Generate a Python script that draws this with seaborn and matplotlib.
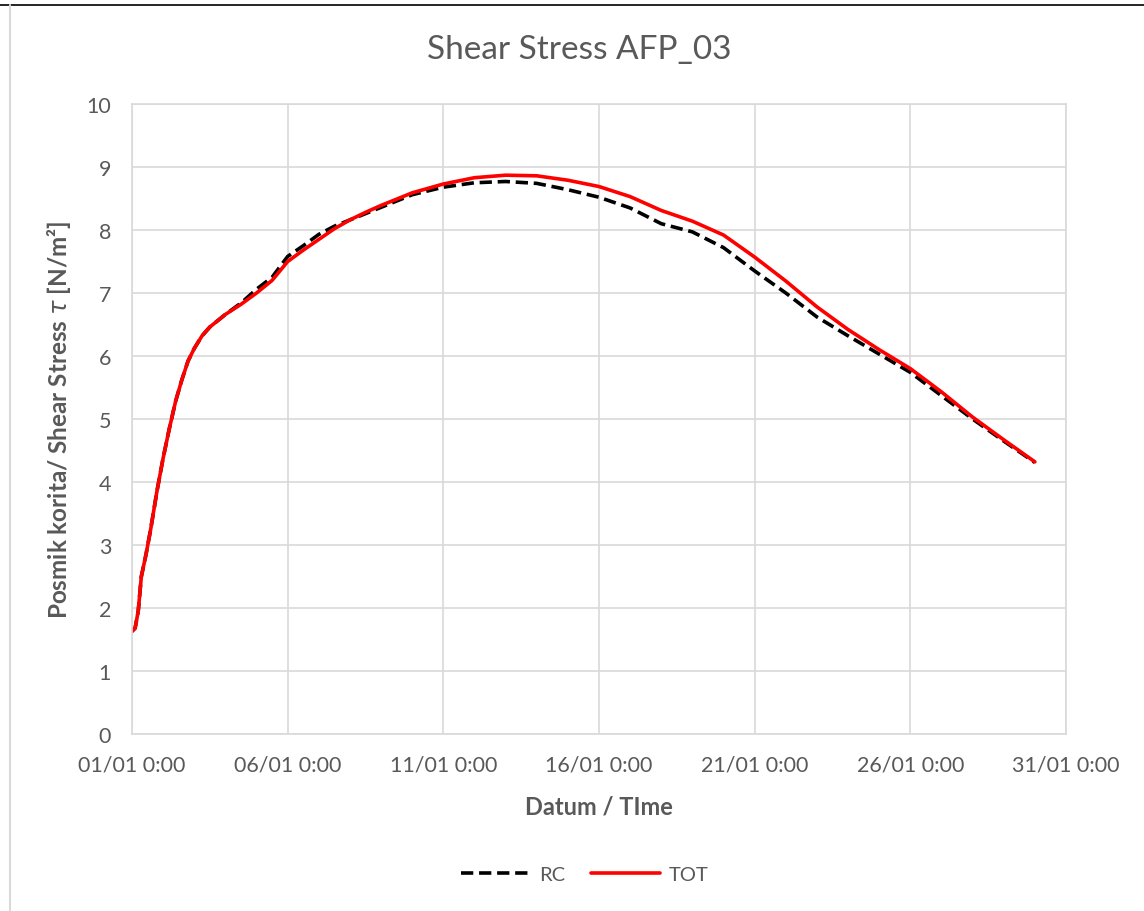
import numpy as np
import pandas as pd
import matplotlib
matplotlib.use("Agg")
import matplotlib.pyplot as plt
from matplotlib.lines import Line2D
from matplotlib.ticker import FuncFormatter
import matplotlib.dates as mdates
import seaborn as sns

# Elapsed time since 01/01 0:00, in days
days = [0, 0.1, 0.2, 0.3, 0.45, 0.6, 0.8, 1.0, 1.2, 1.4, 1.6, 1.8, 2.0, 2.25,
        2.5, 3.0, 3.5, 4.0, 4.5, 5.0, 5.5, 6.0, 6.5, 7.0, 7.5, 8.0, 9.0, 10.0,
        11.0, 12.0, 13.0, 14.0, 15.0, 16.0, 17.0, 18.0, 19.0, 20.0, 21.0, 22.0,
        23.0, 24.0, 25.0, 26.0, 27.0, 28.0, 29.0]

# Shear stress [N/m2]
tot = [1.63, 1.68, 1.95, 2.50, 2.85, 3.25, 3.85, 4.38, 4.85, 5.28, 5.62, 5.92,
       6.12, 6.32, 6.46, 6.66, 6.82, 7.00, 7.20, 7.50, 7.68, 7.85, 8.02, 8.16,
       8.28, 8.39, 8.59, 8.73, 8.83, 8.87, 8.86, 8.79, 8.69, 8.53, 8.31, 8.14,
       7.92, 7.57, 7.19, 6.78, 6.42, 6.10, 5.80, 5.43, 5.03, 4.67, 4.32]

rc = [1.63, 1.68, 1.95, 2.50, 2.85, 3.25, 3.85, 4.38, 4.85, 5.28, 5.62, 5.92,
      6.12, 6.32, 6.46, 6.66, 6.84, 7.06, 7.25, 7.58, 7.75, 7.93, 8.06, 8.16,
      8.26, 8.36, 8.56, 8.68, 8.75, 8.77, 8.74, 8.64, 8.52, 8.35, 8.10, 7.97,
      7.72, 7.35, 7.00, 6.62, 6.32, 6.03, 5.74, 5.37, 5.00, 4.65, 4.31]

series_names = ["RC", "TOT"]
title = "Shear Stress AFP_03"
x_label = "Datum / TIme"
y_label = r"Posmik korita/ Shear Stress $\tau$ [N/m²]"

start = pd.Timestamp("2021-01-01 00:00")
times = [start + pd.Timedelta(days=d) for d in days]

df = pd.concat([
    pd.DataFrame({"time": times, "value": rc, "series": "RC"}),
    pd.DataFrame({"time": times, "value": tot, "series": "TOT"}),
], ignore_index=True)

sns.set_theme(style="white")
plt.rcParams["font.family"] = ["Lato", "DejaVu Sans"]
plt.rcParams["mathtext.fontset"] = "dejavusans"

text_color = "#595959"
grid_color = "#d9d9d9"

fig = plt.figure(figsize=(11.44, 9.12), dpi=100)
fig.patch.set_facecolor("white")
ax = fig.add_axes([132 / 1144, 1 - 735 / 912, (1066 - 132) / 1144, (735 - 105) / 912])

sns.lineplot(
    data=df, x="time", y="value", hue="series", style="series",
    hue_order=series_names, style_order=series_names,
    palette={"RC": "black", "TOT": "#ff0000"},
    dashes={"RC": (3.4, 1.6), "TOT": ""},
    linewidth=2.6, ax=ax, legend=False, sort=False,
)
for line in ax.get_lines():
    line.set_solid_capstyle("round")
    line.set_dash_capstyle("butt")

# Axes limits and ticks
ax.set_xlim(start, start + pd.Timedelta(days=30))
ax.set_ylim(0, 10)
ax.set_yticks(np.arange(0, 11, 1))
ax.set_xticks([start + pd.Timedelta(days=d) for d in range(0, 31, 5)])


def fmt_date(val, pos=None):
    d = mdates.num2date(val)
    return f"{d.day:02d}/{d.month:02d} {d.hour}:{d.minute:02d}"


ax.xaxis.set_major_formatter(FuncFormatter(fmt_date))
ax.grid(True, color=grid_color, linewidth=1.2)
ax.set_axisbelow(True)
for sp in ax.spines.values():
    sp.set_color(grid_color)
    sp.set_linewidth(1.2)
ax.tick_params(axis="x", length=0, pad=15, labelsize=15.5, labelcolor=text_color)
ax.tick_params(axis="y", length=0, pad=15, labelsize=15.5, labelcolor=text_color)

ax.set_xlabel(x_label, fontsize=17, fontweight="bold", color=text_color, labelpad=14)
ax.set_ylabel(y_label, fontsize=17.5, fontweight="bold", color=text_color, labelpad=10)
fig.text(579 / 1144, 1 - 50 / 912, title, fontsize=24, color=text_color,
         ha="center", va="center")

# Legend below the plot area
handles = [
    Line2D([], [], color="black", linewidth=2.6, dashes=(3.4, 1.6)),
    Line2D([], [], color="#ff0000", linewidth=2.6, solid_capstyle="round"),
]
leg = fig.legend(handles, series_names, loc="center", ncol=2,
                 bbox_to_anchor=(585 / 1144, 1 - 875 / 912), frameon=False,
                 fontsize=14.5, handlelength=3.4, handletextpad=0.45,
                 columnspacing=1.3)
for t in leg.get_texts():
    t.set_color(text_color)

# Chart area border
fig.add_artist(Line2D([0, 1], [1 - 5.5 / 912, 1 - 5.5 / 912], color="black",
                      linewidth=1.2, transform=fig.transFigure))
fig.add_artist(Line2D([10 / 1144, 10 / 1144], [0, 1 - 5.5 / 912], color=grid_color,
                      linewidth=1.5, transform=fig.transFigure))

fig.savefig("out.png", dpi=100, facecolor="white")
